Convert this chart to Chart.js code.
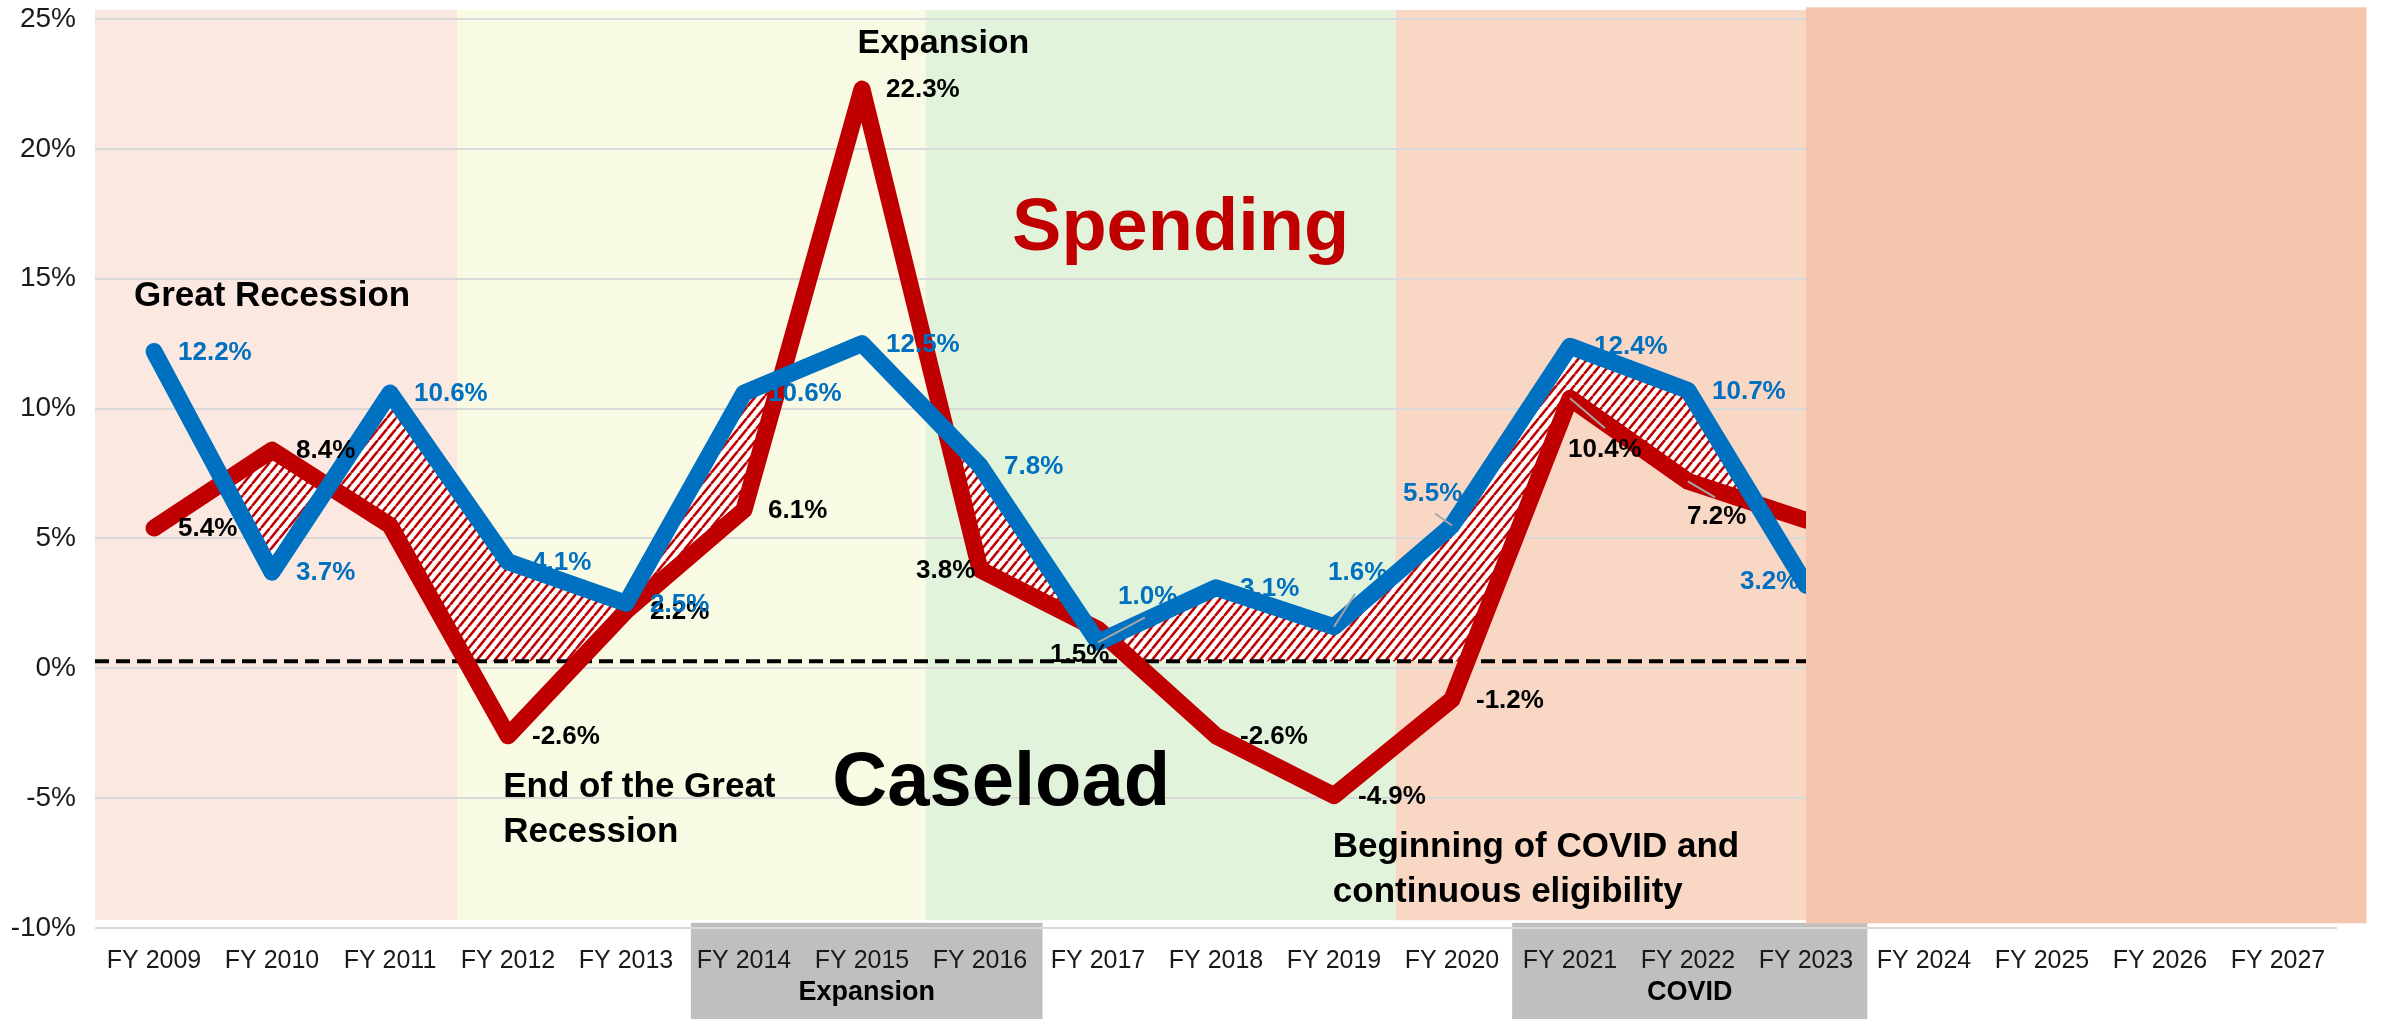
<!DOCTYPE html>
<html>
<head>
<meta charset="utf-8">
<style>
  html, body { margin: 0; padding: 0; background: #fff; }
  #wrap { width: 2382px; height: 1019px; }
</style>
<script src="https://cdn.jsdelivr.net/npm/chart.js@4.4.1/dist/chart.umd.min.js"></script>
</head>
<body>
<div id="wrap"><canvas id="myChart" width="2382" height="1019"></canvas></div>
<script>
// fiscal years on the x axis
var years = ['FY 2009', 'FY 2010', 'FY 2011', 'FY 2012', 'FY 2013', 'FY 2014', 'FY 2015',
  'FY 2016', 'FY 2017', 'FY 2018', 'FY 2019', 'FY 2020', 'FY 2021', 'FY 2022', 'FY 2023',
  'FY 2024', 'FY 2025', 'FY 2026', 'FY 2027'];

// year over year growth, %
var caseloadGrowth = [12.2, 3.7, 10.6, 4.1, 2.5, 10.6, 12.5, 7.8, 1.0, 3.1, 1.6, 5.5, 12.4, 10.7, 3.2,
  null, null, null, null];
var spendingGrowth = [5.4, 8.4, 5.5, -2.6, 2.2, 6.1, 22.3, 3.8, 1.5, -2.6, -4.9, -1.2, 10.4, 7.2, 5.7,
  null, null, null, null];

var yTicks = [-10, -5, 0, 5, 10, 15, 20, 25];
var zeroLine = 0.27;

// shaded periods, in category index units
var periods = [
  { from: -0.5, to: 2.57, color: '#FBE9E1' },
  { from: 2.57, to: 6.54, color: '#F9FAE4' },
  { from: 6.54, to: 10.52, color: '#E2F3DC' },
  { from: 10.52, to: 14.0, color: '#F8D7C4' }
];
var forecastBox = { from: 14.0, to: 18.75, color: '#F5C6AD' };
var axisGroups = [
  { from: 4.55, to: 7.53, text: 'Expansion' },
  { from: 11.51, to: 14.52, text: 'COVID' }
];

// callouts: x in index units, y in % units (baseline)
var notes = [
  { x: -0.17, y: 13.94, lines: ['Great Recession'], align: 'left', size: 35, color: '#000' },
  { x: 6.69, y: 23.69, lines: ['Expansion'], align: 'center', size: 34, color: '#000' },
  { x: 8.70, y: 16.1, lines: ['Spending'], align: 'center', size: 74, color: '#C00000' },
  { x: 7.18, y: -5.28, lines: ['Caseload'], align: 'center', size: 76, color: '#000' },
  { x: 2.96, y: -4.97, lines: ['End of the Great', 'Recession'], align: 'left', size: 35, color: '#000' },
  { x: 9.99, y: -7.28, lines: ['Beginning of COVID and', 'continuous eligibility'], align: 'left', size: 35, color: '#000' }
];

// label nudges (px) where the default "right of point" doesn't fit
var blueNudge = { 8: [20, -45], 10: [-6, -54], 11: [-49, -32], 14: [-66, -3] };
var redNudge = { 7: [-64, 1], 8: [-48, 25], 12: [-2, 52], 13: [-1, 36] };
var redHidden = [2, 14];
// short grey leader lines from a point toward its label
var blueLeader = { 8: [47, -25], 10: [21, -33], 11: [-17, -12] };
var redLeader = { 12: [35, 30], 13: [27, 16] };

var FONT = "'Liberation Sans', Arial, sans-serif";

function makeHatch() {
  var w = 9, h = 11;
  var c = document.createElement('canvas');
  c.width = w; c.height = h;
  var g = c.getContext('2d');
  g.fillStyle = '#ffffff';
  g.fillRect(0, 0, w, h);
  g.strokeStyle = '#C00000';
  g.lineWidth = 2.6;
  for (var k = -1; k <= 1; k++) {
    g.beginPath();
    g.moveTo(k * w, h);
    g.lineTo((k + 1) * w, 0);
    g.stroke();
  }
  return g.createPattern(c, 'repeat');
}

function linePath(ctx, pts, closeY) {
  ctx.beginPath();
  ctx.moveTo(pts[0].x, closeY);
  pts.forEach(function(p) { ctx.lineTo(p.x, p.y); });
  ctx.lineTo(pts[pts.length - 1].x, closeY);
  ctx.closePath();
}

var backdrop = {
  id: 'backdrop',
  beforeDraw: function(chart) {
    var ctx = chart.ctx, xs = chart.scales.x, ys = chart.scales.y;
    ctx.save();
    ctx.fillStyle = '#ffffff';
    ctx.fillRect(0, 0, chart.width, chart.height);
    var top = ys.getPixelForValue(25.35), bot = ys.getPixelForValue(-9.7);
    periods.forEach(function(p) {
      var x0 = xs.getPixelForValue(p.from), x1 = xs.getPixelForValue(p.to);
      ctx.fillStyle = p.color;
      ctx.fillRect(x0, top, x1 - x0, bot - top);
    });
    var gy = ys.getPixelForValue(-9.8);
    axisGroups.forEach(function(g) {
      var x0 = xs.getPixelForValue(g.from), x1 = xs.getPixelForValue(g.to);
      ctx.fillStyle = '#BFBFBF';
      ctx.fillRect(x0, gy, x1 - x0, chart.height - gy);
      ctx.fillStyle = '#000';
      ctx.font = 'bold 27px ' + FONT;
      ctx.textAlign = 'center';
      ctx.textBaseline = 'middle';
      ctx.fillText(g.text, (x0 + x1) / 2, 993);
    });
    ctx.restore();
  },
  beforeDatasetsDraw: function(chart) {
    var ctx = chart.ctx, area = chart.chartArea, xs = chart.scales.x, ys = chart.scales.y;
    var blue = chart.getDatasetMeta(0).data.filter(function(p, i) { return caseloadGrowth[i] !== null; });
    var red = chart.getDatasetMeta(1).data.filter(function(p, i) { return spendingGrowth[i] !== null; });
    var dashY = ys.getPixelForValue(zeroLine);
    var hatch = makeHatch();

    // caseload above spending
    ctx.save();
    var xa = xs.getPixelForValue(0.59);
    ctx.beginPath(); ctx.rect(xa, area.top, area.right - xa, dashY - area.top); ctx.clip();
    linePath(ctx, blue, area.bottom); ctx.clip();
    linePath(ctx, red, area.top); ctx.clip();
    ctx.fillStyle = hatch;
    ctx.fillRect(area.left, area.top, area.right - area.left, area.bottom - area.top);
    ctx.restore();

    // the FY 2010 pocket
    ctx.save();
    var xb0 = xs.getPixelForValue(0), xb1 = xs.getPixelForValue(2);
    ctx.beginPath(); ctx.rect(xb0, area.top, xb1 - xb0, dashY - area.top); ctx.clip();
    linePath(ctx, blue, area.top); ctx.clip();
    linePath(ctx, red, area.bottom); ctx.clip();
    ctx.fillStyle = hatch;
    ctx.fillRect(area.left, area.top, area.right - area.left, area.bottom - area.top);
    ctx.restore();

    ctx.save();
    ctx.strokeStyle = '#000';
    ctx.lineWidth = 4;
    ctx.setLineDash([14, 7]);
    ctx.beginPath();
    ctx.moveTo(area.left, dashY);
    ctx.lineTo(area.right, dashY);
    ctx.stroke();
    ctx.restore();
  },
  afterDatasetsDraw: function(chart) {
    var ctx = chart.ctx, xs = chart.scales.x, ys = chart.scales.y;
    ctx.save();

    ctx.strokeStyle = '#A6A6A6';
    ctx.lineWidth = 2;
    [[0, blueLeader], [1, redLeader]].forEach(function(pair) {
      var pts = chart.getDatasetMeta(pair[0]).data;
      Object.keys(pair[1]).forEach(function(k) {
        var p = pts[k], d = pair[1][k];
        ctx.beginPath();
        ctx.moveTo(p.x, p.y);
        ctx.lineTo(p.x + d[0], p.y + d[1]);
        ctx.stroke();
      });
    });

    ctx.font = 'bold 26px ' + FONT;
    ctx.textAlign = 'left';
    ctx.textBaseline = 'middle';
    chart.getDatasetMeta(1).data.forEach(function(p, i) {
      var v = spendingGrowth[i];
      if (v === null || redHidden.indexOf(i) >= 0) return;
      var n = redNudge[i] || [24, 1];
      ctx.fillStyle = '#000';
      ctx.fillText(v.toFixed(1) + '%', p.x + n[0], p.y + n[1]);
    });
    chart.getDatasetMeta(0).data.forEach(function(p, i) {
      var v = caseloadGrowth[i];
      if (v === null) return;
      var n = blueNudge[i] || [24, 1];
      ctx.fillStyle = '#0070C0';
      ctx.fillText(v.toFixed(1) + '%', p.x + n[0], p.y + n[1]);
    });

    // forecast years box sits over the lines
    var x0 = xs.getPixelForValue(forecastBox.from), x1 = xs.getPixelForValue(forecastBox.to);
    var t = ys.getPixelForValue(25.45), b = ys.getPixelForValue(-9.82);
    ctx.fillStyle = forecastBox.color;
    ctx.fillRect(x0, t, x1 - x0, b - t);

    notes.forEach(function(n) {
      ctx.font = 'bold ' + n.size + 'px ' + FONT;
      ctx.fillStyle = n.color;
      ctx.textAlign = n.align;
      ctx.textBaseline = 'alphabetic';
      var x = xs.getPixelForValue(n.x), y = ys.getPixelForValue(n.y);
      n.lines.forEach(function(s, k) { ctx.fillText(s, x, y + k * 45); });
    });
    ctx.restore();
  }
};

var ctx = document.getElementById('myChart').getContext('2d');
var chartInstance = new Chart(ctx, {
  type: 'line',
  data: {
    labels: years,
    datasets: [{
      label: 'Caseload',
      data: caseloadGrowth,
      borderColor: '#0070C0',
      borderWidth: 17,
      borderCapStyle: 'round',
      borderJoinStyle: 'round',
      pointRadius: 0,
      tension: 0,
      fill: false
    }, {
      label: 'Spending',
      data: spendingGrowth,
      borderColor: '#C00000',
      borderWidth: 17,
      borderCapStyle: 'round',
      borderJoinStyle: 'round',
      pointRadius: 0,
      tension: 0,
      fill: false
    }]
  },
  options: {
    responsive: false,
    animation: false,
    devicePixelRatio: 1,
    layout: { padding: { top: 19, right: 45, left: 0, bottom: 0 } },
    plugins: {
      legend: { display: false },
      tooltip: { enabled: false }
    },
    scales: {
      x: {
        offset: true,
        grid: { display: false, drawTicks: false },
        border: { display: false },
        ticks: {
          autoSkip: false, maxRotation: 0, padding: 18,
          color: '#1a1a1a', font: { family: FONT, size: 25 }
        },
        afterFit: function(s) { s.height = 91; }
      },
      y: {
        min: -10, max: 25,
        afterBuildTicks: function(s) { s.ticks = yTicks.map(function(v) { return { value: v }; }); },
        grid: { color: '#D9D9D9', lineWidth: 2, drawTicks: false },
        border: { display: false },
        ticks: {
          padding: 19, color: '#1a1a1a', font: { family: FONT, size: 28 },
          callback: function(v) { return v + '%'; }
        },
        afterFit: function(s) { s.width = 95; s.paddingTop = 0; s.paddingBottom = 0; }
      }
    }
  },
  plugins: [backdrop]
});
</script>
</body>
</html>
